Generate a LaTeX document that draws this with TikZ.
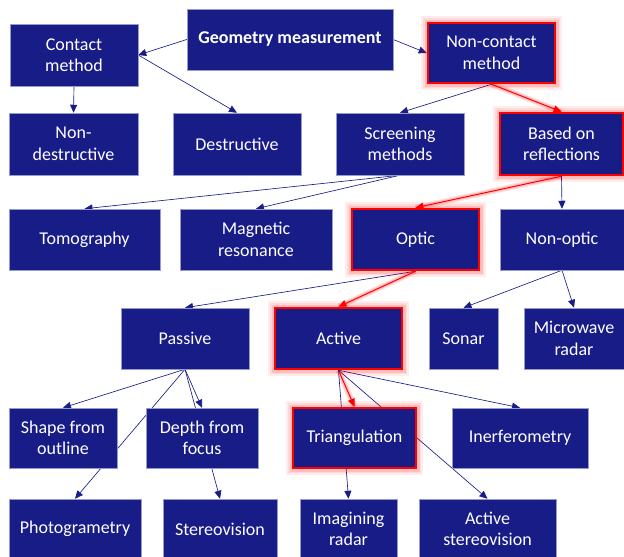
\documentclass[tikz,border=0pt]{standalone}
\usepackage{fontspec}
\setmainfont{Carlito}
\usepackage{xcolor}
\usepackage{tikz}
\usetikzlibrary{arrows.meta,positioning,backgrounds}

\definecolor{boxblue}{RGB}{24,28,134}
\definecolor{boxedge}{RGB}{150,154,205}

\begin{document}
\begin{tikzpicture}[x=1pt, y=-1pt,
  box/.style={fill=boxblue, draw=boxedge, line width=0.5pt, text=white, align=center, inner sep=0pt, font=\fontsize{18}{21.5}\selectfont},
  hl/.style={draw=red, line width=2.5pt, preaction={draw=red, opacity=0.07, line width=14pt}, preaction={draw=red, opacity=0.09, line width=10.5pt}, preaction={draw=red, opacity=0.12, line width=7pt}},
  link/.style={-{Triangle[length=8pt,width=7pt]}, draw=boxblue, line width=0.65pt},
  redlink/.style={-{Triangle[length=8pt,width=7pt]}, draw=red, line width=1pt, preaction={draw=red, opacity=0.12, line width=6pt, -}, preaction={draw=red, opacity=0.15, line width=3.5pt, -}}]

\useasboundingbox (0,0) rectangle (624,557);

% Top level
\node[box, minimum width=206pt, minimum height=61pt, font=\fontsize{18}{21.5}\selectfont\bfseries] (geom) at (290,39.5) {Geometry measurement};
\node[box, minimum width=128pt, minimum height=62pt] (contact) at (74,55) {Contact\\method};
\node[box, hl, minimum width=127pt, minimum height=60pt] (noncontact) at (491.5,53) {Non-contact\\method};

% Second row
\node[box, minimum width=129pt, minimum height=62pt] (nondestr) at (73.5,144) {Non-\\destructive};
\node[box, minimum width=128pt, minimum height=62pt] (destr) at (237,144) {Destructive};
\node[box, minimum width=128pt, minimum height=62pt] (screen) at (400,144) {Screening\\methods};
\node[box, hl, minimum width=123pt, minimum height=62pt] (based) at (561.5,144) {Based on\\reflections};

% Third row
\node[box, minimum width=151pt, minimum height=61pt] (tomo) at (84.5,239.5) {Tomography};
\node[box, minimum width=152pt, minimum height=61pt] (magres) at (256,239.5) {Magnetic\\resonance};
\node[box, hl, minimum width=127pt, minimum height=61pt] (optic) at (415.5,239.5) {Optic};
\node[box, minimum width=124pt, minimum height=61pt] (nonoptic) at (562,239.5) {Non-optic};

% Fourth row
\node[box, minimum width=128pt, minimum height=61pt] (passive) at (185,338.5) {Passive};
\node[box, hl, minimum width=127pt, minimum height=61pt] (active) at (338.5,338.5) {Active};
\node[box, minimum width=69pt, minimum height=61pt] (sonar) at (463.5,338.5) {Sonar};
\node[box, minimum width=100pt, minimum height=61pt] (microwave) at (574,338.5) {Microwave\\radar};

% Fifth row
\node[box, minimum width=108pt, minimum height=60pt] (shape) at (63,438) {Shape from\\outline};
\node[box, minimum width=112pt, minimum height=60pt] (depth) at (202,438) {Depth from\\focus};
\node[box, hl, minimum width=123pt, minimum height=60pt] (triang) at (354.5,438) {Triangulation};
\node[box, minimum width=136pt, minimum height=60pt] (interf) at (520,438) {Inerferometry};

% Bottom row
\node[box, minimum width=132pt, minimum height=60pt] (photo) at (75,529) {Photogrametry};
\node[box, minimum width=114pt, minimum height=60pt] (stereo) at (220,529) {Stereovision};
\node[box, minimum width=97pt, minimum height=60pt] (imaging) at (348.5,529) {Imagining\\radar};
\node[box, minimum width=137pt, minimum height=60pt] (actstereo) at (487.5,529) {Active\\stereovision};

% Connectors (behind the boxes)
\begin{scope}[on background layer]
\draw[link] (geom.west) -- (contact.east);
\draw[link] (geom.east) -- (noncontact.west);
\draw[link] (contact.south) -- (nondestr.north);
\draw[link] (contact.east) -- (destr.north);
\draw[link] (noncontact.south) -- (screen.north);
\draw[redlink] (noncontact.south) -- (based.north);
\draw[link] (screen.south) -- (tomo.north);
\draw[link] (screen.south) -- (magres.north);
\draw[redlink] (based.south) -- (optic.north);
\draw[link] (based.south) -- (nonoptic.north);
\draw[link] (optic.south) -- (passive.north);
\draw[redlink] (optic.south) -- (active.north);
\draw[link] (nonoptic.south) -- (sonar.north);
\draw[link] (nonoptic.south) -- (microwave.north);
\draw[link] (passive.south) -- (shape.north);
\draw[link] (passive.south) -- (depth.north);
\draw[link] (passive.south) -- (photo.north);
\draw[link] (passive.south) -- (stereo.north);
\draw[redlink] (active.south) -- (triang.north);
\draw[link] (active.south) -- (interf.north);
\draw[link] (active.south) -- (imaging.north);
\draw[link] (active.south) -- (actstereo.north);
\end{scope}

\end{tikzpicture}
\end{document}
